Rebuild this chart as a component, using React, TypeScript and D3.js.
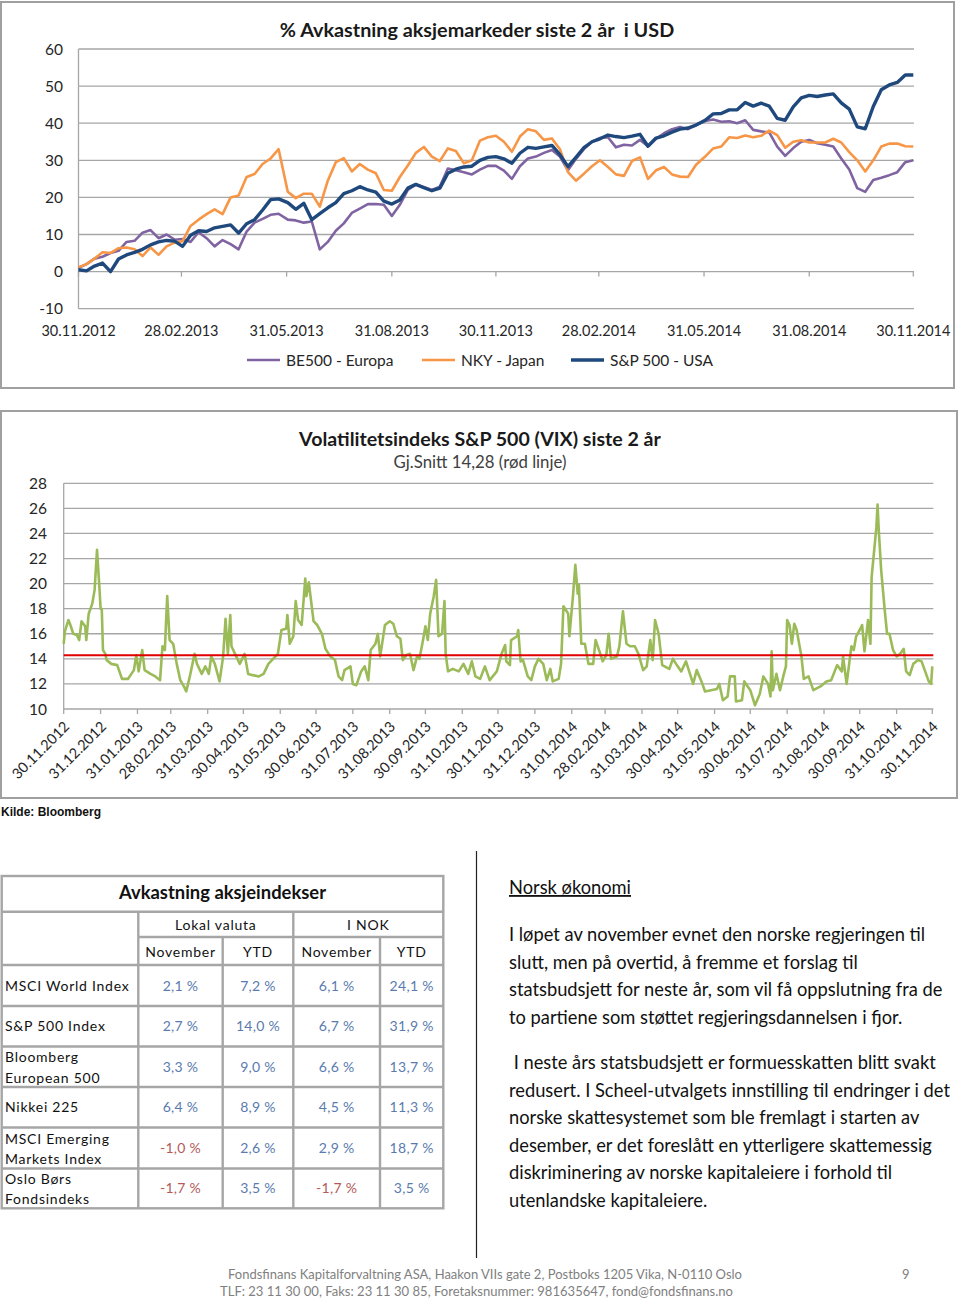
import React from 'react';
import * as d3 from 'd3';

// ---------- Chart 1: % Avkastning aksjemarkeder siste 2 år i USD ----------
const retTitle = '% Avkastning aksjemarkeder siste 2 år  i USD';
const retStart = '30.11.2012';
const retEnd = '30.11.2014';
const retTickLabels = ['30.11.2012', '28.02.2013', '31.05.2013', '31.08.2013', '30.11.2013', '28.02.2014', '31.05.2014', '31.08.2014', '30.11.2014'];
const retYTicks = [-10, 0, 10, 20, 30, 40, 50, 60];
const seriesNames = ['BE500 - Europa', 'NKY - Japan', 'S&P 500 - USA'];
const seriesColors = ['#8064A2', '#F79646', '#1F497D'];

// weekly samples, 30.11.2012 -> 30.11.2014
const be500 = [
  1.0, 2.0, 3.5, 4.0, 5.0, 5.6, 8.0, 8.3, 10.5, 11.2,
  9.0, 10.0, 8.6, 8.8, 8.0, 10.6, 9.0, 6.8, 8.5, 7.4,
  6.0, 10.8, 13.2, 14.2, 15.3, 15.6, 14.0, 13.8, 13.2, 13.5,
  6.0, 8.0, 11.0, 13.0, 15.8, 17.0, 18.2, 18.2, 18.0, 15.0,
  18.0, 22.0, 23.5, 22.8, 22.0, 22.9, 27.8, 27.3, 26.8, 26.2,
  27.5, 28.5, 28.5, 27.2, 25.0, 28.4, 30.5, 31.0, 32.0, 32.8,
  31.0, 27.3, 30.4, 33.0, 35.0, 36.0, 36.2, 33.5, 34.2, 34.0,
  35.5, 33.8, 35.8, 37.3, 38.4, 39.0, 38.4, 39.5, 40.6, 41.0,
  40.4, 40.5, 40.0, 40.8, 38.2, 37.8, 37.5, 33.7, 31.2, 33.3,
  35.0, 35.5, 34.6, 34.2, 33.7, 30.5, 27.5, 22.5, 21.5, 24.7,
  25.3, 26.0, 26.8, 29.5, 30.0,
];
const nky = [
  1.2, 2.0, 3.5, 5.2, 5.0, 6.3, 6.5, 6.0, 4.2, 6.5,
  4.5, 6.8, 7.8, 8.2, 12.3, 14.0, 15.5, 16.8, 15.5, 20.0,
  20.5, 25.5, 26.3, 29.0, 30.5, 33.0, 21.5, 19.8, 21.0, 21.0,
  17.5, 24.5, 29.5, 30.6, 27.0, 29.0, 27.5, 26.5, 22.0, 21.8,
  25.5, 28.6, 32.0, 33.6, 31.0, 29.8, 33.2, 32.5, 29.2, 30.0,
  35.3, 36.2, 36.6, 35.0, 32.3, 36.4, 38.4, 37.8, 35.5, 35.9,
  33.0, 26.8, 24.5, 26.4, 28.4, 30.0, 28.2, 26.2, 25.8, 29.8,
  30.8, 25.0, 27.3, 28.2, 26.2, 25.6, 25.5, 28.8, 31.0, 33.2,
  33.7, 36.2, 36.0, 36.7, 36.2, 36.6, 38.0, 36.8, 33.4, 35.0,
  35.4, 34.8, 34.8, 34.8, 35.8, 34.8, 32.2, 30.0, 27.0, 30.0,
  33.7, 34.5, 34.5, 33.8, 33.7,
];
const spx = [
  0.5, 0.2, 1.5, 2.3, 0.0, 3.4, 4.5, 5.2, 6.0, 7.2,
  8.0, 8.4, 8.2, 6.8, 9.8, 11.0, 10.8, 11.8, 12.2, 12.6,
  10.4, 12.9, 14.0, 16.6, 19.4, 19.6, 18.6, 16.8, 18.4, 14.0,
  15.6, 17.2, 18.6, 21.0, 21.8, 22.9, 22.0, 21.4, 19.0, 18.2,
  19.3, 22.5, 23.5, 22.6, 21.8, 22.5, 26.5, 27.6, 28.2, 28.4,
  30.0, 30.8, 31.0, 30.4, 29.2, 31.9, 33.5, 33.2, 33.6, 34.0,
  31.5, 28.3, 30.8, 33.4, 35.0, 35.8, 36.8, 36.4, 36.1, 36.5,
  37.0, 33.8, 36.0, 36.6, 37.6, 38.4, 38.7, 39.5, 40.8, 42.5,
  42.6, 43.6, 43.6, 45.6, 44.6, 45.4, 44.6, 41.3, 40.8, 44.4,
  46.8, 47.5, 47.2, 47.6, 47.9, 45.5, 43.8, 39.0, 38.5, 44.5,
  49.0, 50.3, 51.0, 53.0, 53.0,
];

// ---------- Chart 2: VIX ----------
const vixTitle = 'Volatilitetsindeks S&P 500 (VIX) siste 2 år';
const vixSubtitle = 'Gj.Snitt 14,28 (rød linje)';
const vixMean = 14.28;
const vixYTicks = [10, 12, 14, 16, 18, 20, 22, 24, 26, 28];
const vixTickLabels = [
  '30.11.2012', '31.12.2012', '31.01.2013', '28.02.2013', '31.03.2013', '30.04.2013', '31.05.2013',
  '30.06.2013', '31.07.2013', '31.08.2013', '30.09.2013', '31.10.2013', '30.11.2013', '31.12.2013',
  '31.01.2014', '28.02.2014', '31.03.2014', '30.04.2014', '31.05.2014', '30.06.2014', '31.07.2014',
  '31.08.2014', '30.09.2014', '31.10.2014', '30.11.2014',
];
// days after 30.11.2012
const vixDays = [
  0, 1, 4, 6, 8, 11, 13, 15, 18, 19,
  21, 24, 26, 28, 30, 31, 32, 33, 35, 36,
  40, 45, 49, 54, 59, 61, 63, 66, 68, 73,
  77, 81, 83, 85, 87, 89, 92, 95, 98, 101,
  103, 106, 110, 112, 116, 119, 122, 124, 127, 131,
  134, 136, 138, 140, 141, 144, 148, 152, 155, 159,
  164, 168, 172, 176, 180, 183, 187, 188, 190, 193,
  195, 197, 200, 203, 204, 206, 210, 213, 217, 220,
  224, 228, 231, 234, 236, 241, 243, 246, 250, 253,
  256, 258, 262, 264, 266, 270, 274, 277, 280, 283,
  285, 288, 291, 294, 297, 299, 302, 304, 306, 308,
  311, 313, 315, 318, 320, 321, 323, 327, 332, 336,
  340, 343, 346, 350, 354, 358, 364, 368, 371, 372,
  375, 376, 381, 382, 384, 386, 390, 393, 396, 399,
  403, 406, 409, 411, 416, 418, 420, 424, 425, 428,
  430, 432, 433, 435, 438, 441, 445, 447, 451, 453,
  456, 458, 460, 465, 467, 470, 473, 476, 480, 483,
  487, 490, 493, 495, 497, 500, 503, 509, 512, 516,
  519, 523, 529, 532, 536, 539, 544, 549, 551, 554,
  558, 560, 564, 565, 570, 572, 577, 581, 585, 588,
  592, 594, 595, 596, 599, 602, 605, 607, 608, 610,
  612, 614, 616, 620, 622, 626, 630, 636, 641, 645,
  650, 654, 655, 658, 662, 664, 666, 669, 671, 673,
  676, 678, 679, 682, 683, 684, 685, 687, 690, 692,
  694, 697, 700, 703, 706, 708, 711, 714, 718, 721,
  724, 727, 729, 730,
];
const vixValues = [
  15.2, 16.2, 17.1, 16.6, 16.0, 15.9, 15.5, 17.0, 16.6, 15.5,
  17.6, 18.4, 19.5, 22.7, 19.7, 18.0, 18.0, 14.7, 14.4, 13.9,
  13.6, 13.5, 12.4, 12.4, 13.1, 14.3, 13.0, 14.7, 13.1, 12.8,
  12.6, 12.3, 15.0, 14.7, 19.0, 15.5, 15.2, 13.6, 12.3, 11.8,
  11.4, 12.6, 14.4, 13.6, 12.8, 13.4, 12.8, 14.2, 13.6, 12.2,
  14.2, 17.2, 14.4, 17.5, 15.0, 14.4, 13.6, 14.4, 12.8, 12.7,
  12.6, 12.8, 13.6, 14.0, 14.4, 16.3, 16.4, 17.5, 15.2, 15.8,
  18.6, 17.1, 16.7, 20.4, 19.0, 20.1, 17.0, 16.7, 16.0, 14.8,
  14.2, 13.9, 12.6, 12.3, 13.1, 13.4, 12.0, 11.9, 13.0, 13.4,
  12.3, 14.7, 15.2, 16.0, 14.2, 16.7, 17.0, 16.8, 15.8, 15.6,
  13.9, 14.3, 14.4, 13.1, 14.2, 14.0, 15.5, 16.6, 15.5, 17.6,
  19.0, 20.3, 15.8, 16.0, 18.6, 14.4, 13.0, 13.2, 13.0, 13.6,
  12.8, 13.8, 12.6, 12.4, 13.4, 12.3, 13.0, 14.4, 15.1, 13.8,
  13.5, 15.5, 15.8, 16.3, 13.8, 13.9, 12.6, 12.3, 13.4, 14.0,
  13.6, 12.3, 13.2, 12.2, 12.4, 13.6, 18.2, 17.6, 15.8, 19.0,
  21.5, 19.2, 19.9, 15.2, 15.2, 13.6, 13.6, 15.5, 14.4, 13.8,
  14.3, 16.0, 14.0, 14.2, 15.0, 17.8, 15.2, 15.0, 15.0, 14.4,
  13.1, 13.4, 15.5, 13.9, 17.1, 16.0, 13.5, 13.2, 14.0, 13.4,
  13.0, 13.8, 12.0, 13.1, 12.2, 11.4, 11.5, 11.6, 12.0, 10.7,
  11.0, 12.6, 12.6, 10.6, 10.7, 12.2, 11.5, 10.3, 11.2, 12.6,
  12.0, 11.0, 14.6, 11.5, 12.8, 11.5, 12.7, 13.4, 17.1, 16.7,
  15.2, 16.8, 16.3, 14.2, 12.4, 12.6, 11.5, 11.8, 12.2, 12.3,
  13.5, 13.0, 14.2, 12.0, 15.0, 14.7, 15.8, 16.3, 16.7, 14.6,
  17.1, 15.2, 20.5, 23.5, 24.5, 26.3, 24.3, 21.1, 17.9, 16.0,
  16.0, 14.7, 14.2, 14.4, 14.8, 13.0, 12.7, 13.6, 13.9, 13.8,
  13.0, 12.2, 12.0, 13.4,
];

// ---------- Table ----------
const tableTitle = 'Avkastning aksjeindekser';
const groupHeaders = ['Lokal valuta', 'I NOK'];
const subHeaders = ['November', 'YTD', 'November', 'YTD'];
const indexNames = [
  ['MSCI World Index'],
  ['S&P 500 Index'],
  ['Bloomberg', 'European 500'],
  ['Nikkei 225'],
  ['MSCI Emerging', 'Markets Index'],
  ['Oslo Børs', 'Fondsindeks'],
];
const lokalNov = [2.1, 2.7, 3.3, 6.4, -1.0, -1.7];
const lokalYtd = [7.2, 14.0, 9.0, 8.9, 2.6, 3.5];
const nokNov = [6.1, 6.7, 6.6, 4.5, 2.9, -1.7];
const nokYtd = [24.1, 31.9, 13.7, 11.3, 18.7, 3.5];

// ---------- Text ----------
const sourceText = 'Kilde: Bloomberg';
const heading = 'Norsk økonomi';
const para1 = [
  'I løpet av november evnet den norske regjeringen til',
  'slutt, men på overtid, å fremme et forslag til',
  'statsbudsjett for neste år, som vil få oppslutning fra de',
  'to partiene som støttet regjeringsdannelsen i fjor.',
];
const para2 = [
  ' I neste års statsbudsjett er formuesskatten blitt svakt',
  'redusert. I Scheel-utvalgets innstilling til endringer i det',
  'norske skattesystemet som ble fremlagt i starten av',
  'desember, er det foreslått en ytterligere skattemessig',
  'diskriminering av norske kapitaleiere i forhold til',
  'utenlandske kapitaleiere.',
];
const footer1 = 'Fondsfinans Kapitalforvaltning ASA, Haakon VIIs gate 2, Postboks 1205 Vika, N-0110 Oslo';
const footer2 = 'TLF: 23 11 30 00, Faks: 23 11 30 85, Foretaksnummer: 981635647, fond@fondsfinans.no';
const pageNo = '9';

const parseDMY = d3.timeParse('%d.%m.%Y');
const FONT = 'Lato, "Open Sans", sans-serif';
const GRID = '#A6A6A6';
const TXT = '#262626';

function ReturnChart() {
  const start = parseDMY(retStart)!;
  const end = parseDMY(retEnd)!;
  const x = d3.scaleTime().domain([start, end]).range([78.5, 913.3]);
  const y = d3.scaleLinear().domain([-10, 60]).range([308.7, 49]);
  const total = d3.timeDay.count(start, end);
  const all = [be500, nky, spx];
  const line = d3.line<number>()
    .x((_, i, arr) => x(d3.timeDay.offset(start, Math.round((i * total) / ((arr as number[]).length - 1)))))
    .y((v) => y(v))
    .curve(d3.curveLinear);
  const widths = [2.6, 2.6, 3.4];
  const legendX = [247, 422, 571];
  return (
    <g>
      <rect x={1} y={2} width={953} height={386} fill="#fff" stroke="#A0A0A0" strokeWidth={2} />
      <text x={477} y={37} textAnchor="middle" fontFamily={FONT} fontWeight={700} fontSize={19.8} fill="#1a1a1a" style={{ whiteSpace: 'pre' }}>
        {retTitle}
      </text>
      {retYTicks.map((t) => (
        <g key={t}>
          <line x1={78.5} x2={914} y1={y(t)} y2={y(t)} stroke={GRID} strokeWidth={1.3} />
          <text x={63} y={y(t) + 5.5} textAnchor="end" fontFamily={FONT} fontSize={15.5} fill={TXT}>{t}</text>
        </g>
      ))}
      <line x1={78.5} x2={78.5} y1={y(60)} y2={y(-10)} stroke={GRID} strokeWidth={1.3} />
      {retTickLabels.map((s) => {
        const xx = x(parseDMY(s)!);
        return (
          <g key={s}>
            <line x1={xx} x2={xx} y1={y(0)} y2={y(0) + 5} stroke={GRID} strokeWidth={1.3} />
            <text x={xx} y={336} textAnchor="middle" fontFamily={FONT} fontSize={14.5} fill={TXT}>{s}</text>
          </g>
        );
      })}
      {all.map((s, k) => (
        <path key={k} d={line(s) || ''} fill="none" stroke={seriesColors[k]} strokeWidth={widths[k]} strokeLinejoin="round" />
      ))}
      {seriesNames.map((n, k) => (
        <g key={n}>
          <line x1={legendX[k]} x2={legendX[k] + 33} y1={360} y2={360} stroke={seriesColors[k]} strokeWidth={widths[k]} />
          <text x={legendX[k] + 39} y={366} fontFamily={FONT} fontSize={15.5} fill={TXT}>{n}</text>
        </g>
      ))}
    </g>
  );
}

function VixChart() {
  const start = parseDMY(vixTickLabels[0])!;
  const end = parseDMY(vixTickLabels[vixTickLabels.length - 1])!;
  const x = d3.scaleTime().domain([start, end]).range([63.7, 932.3]);
  const y = d3.scaleLinear().domain([10, 28]).range([709, 483.3]);
  const line = d3.line<number>()
    .x((_, i) => x(d3.timeDay.offset(start, vixDays[i])))
    .y((v) => y(v));
  return (
    <g>
      <rect x={1} y={411} width={956} height={387} fill="#fff" stroke="#A0A0A0" strokeWidth={2} />
      <text x={480} y={446} textAnchor="middle" fontFamily={FONT} fontWeight={700} fontSize={19.6} fill="#1a1a1a">{vixTitle}</text>
      <text x={480} y={468} textAnchor="middle" fontFamily={FONT} fontSize={16.8} fill="#404040">{vixSubtitle}</text>
      {vixYTicks.map((t) => (
        <g key={t}>
          <line x1={63.7} x2={933.3} y1={y(t)} y2={y(t)} stroke={GRID} strokeWidth={1.3} />
          <text x={47} y={y(t) + 5.5} textAnchor="end" fontFamily={FONT} fontSize={15.5} fill={TXT}>{t}</text>
        </g>
      ))}
      <line x1={63.7} x2={63.7} y1={y(28)} y2={y(10)} stroke={GRID} strokeWidth={1.3} />
      {vixTickLabels.map((s) => {
        const xx = x(parseDMY(s)!);
        return (
          <g key={s}>
            <line x1={xx} x2={xx} y1={y(10)} y2={y(10) + 5} stroke={GRID} strokeWidth={1.3} />
            <text transform={`translate(${xx + 3},${724}) rotate(-45)`} textAnchor="end" dy="0.35em" fontFamily={FONT} fontSize={14.5} fill={TXT}>{s}</text>
          </g>
        );
      })}
      <path d={line(vixValues) || ''} fill="none" stroke="#9BBB59" strokeWidth={2.6} strokeLinejoin="round" />
      <line x1={63.7} x2={933.3} y1={y(vixMean)} y2={y(vixMean)} stroke="#E00000" strokeWidth={2} />
    </g>
  );
}

function ReturnTable() {
  const cols = [1.7, 138.3, 222.7, 293.3, 380, 443.3];
  const rows = [876, 911.7, 937, 965, 1006, 1046.5, 1087, 1127.5, 1168.5, 1208.3];
  const valueCols = [lokalNov, lokalYtd, nokNov, nokYtd];
  const fmt = (v: number) => (v < 0 ? '-' : '') + Math.abs(v).toFixed(1).replace('.', ',') + ' %';
  const stroke = '#A6A6A6';
  const sw = 2.4;
  const cellFont = { fontFamily: FONT, fontSize: 14, letterSpacing: 0.75 };
  return (
    <g>
      <rect x={cols[0]} y={rows[0]} width={cols[5] - cols[0]} height={rows[9] - rows[0]} fill="#fff" stroke={stroke} strokeWidth={sw} />
      <line x1={cols[0]} x2={cols[5]} y1={rows[1]} y2={rows[1]} stroke={stroke} strokeWidth={sw} />
      <line x1={cols[1]} x2={cols[5]} y1={rows[2]} y2={rows[2]} stroke={stroke} strokeWidth={sw} />
      {rows.slice(3, 9).map((r) => (
        <line key={r} x1={cols[0]} x2={cols[5]} y1={r} y2={r} stroke={stroke} strokeWidth={sw} />
      ))}
      <line x1={cols[1]} x2={cols[1]} y1={rows[1]} y2={rows[9]} stroke={stroke} strokeWidth={sw} />
      <line x1={cols[2]} x2={cols[2]} y1={rows[2]} y2={rows[9]} stroke={stroke} strokeWidth={sw} />
      <line x1={cols[3]} x2={cols[3]} y1={rows[1]} y2={rows[9]} stroke={stroke} strokeWidth={sw} />
      <line x1={cols[4]} x2={cols[4]} y1={rows[2]} y2={rows[9]} stroke={stroke} strokeWidth={sw} />

      <text x={(cols[0] + cols[5]) / 2} y={899} textAnchor="middle" fontFamily={FONT} fontWeight={700} fontSize={18.4} fill="#111">{tableTitle}</text>
      <text x={(cols[1] + cols[3]) / 2} y={930} textAnchor="middle" {...cellFont} fill="#111">{groupHeaders[0]}</text>
      <text x={(cols[3] + cols[5]) / 2} y={930} textAnchor="middle" {...cellFont} fill="#111">{groupHeaders[1]}</text>
      {subHeaders.map((h, j) => (
        <text key={j} x={(cols[j + 1] + cols[j + 2]) / 2} y={957} textAnchor="middle" {...cellFont} fill="#111">{h}</text>
      ))}
      {indexNames.map((name, i) => {
        const cy = (rows[i + 3] + rows[i + 4]) / 2;
        return (
          <g key={i}>
            {name.length === 1 ? (
              <text x={5} y={cy + 5} {...cellFont} fill="#111">{name[0]}</text>
            ) : (
              <>
                <text x={5} y={cy - 4.5} {...cellFont} fill="#111">{name[0]}</text>
                <text x={5} y={cy + 16} {...cellFont} fill="#111">{name[1]}</text>
              </>
            )}
            {valueCols.map((vals, j) => (
              <text key={j} x={(cols[j + 1] + cols[j + 2]) / 2} y={cy + 5} textAnchor="middle"
                fontFamily={FONT} fontSize={14} letterSpacing={0.3}
                fill={vals[i] < 0 ? '#B55A5A' : '#5A7BAE'}>{fmt(vals[i])}</text>
            ))}
          </g>
        );
      })}
    </g>
  );
}

function TextColumn() {
  const tf = { fontFamily: FONT, fontSize: 18.3, fill: '#111' };
  return (
    <g>
      <line x1={476.5} x2={476.5} y1={851} y2={1258} stroke="#222" strokeWidth={1.2} />
      <text x={509} y={894} {...tf} textDecoration="underline">{heading}</text>
      {para1.map((l, i) => (
        <text key={i} x={509} y={941 + i * 27.6} {...tf} style={{ whiteSpace: 'pre' }}>{l}</text>
      ))}
      {para2.map((l, i) => (
        <text key={i} x={509} y={1069 + i * 27.6} {...tf} style={{ whiteSpace: 'pre' }}>{l}</text>
      ))}
    </g>
  );
}

export default function App() {
  return (
    <svg width={960} height={1302} viewBox="0 0 960 1302" style={{ position: 'absolute', left: 0, top: 0, background: '#fff' }}>
      <rect x={0} y={0} width={960} height={1302} fill="#fff" />
      <ReturnChart />
      <VixChart />
      <text x={1} y={816} fontFamily='"Liberation Sans", Arial, sans-serif' fontWeight={700} fontSize={12} fill="#111">{sourceText}</text>
      <ReturnTable />
      <TextColumn />
      <text x={228} y={1279} fontFamily={FONT} fontSize={13} fill="#7F7F7F" textLength={514} lengthAdjust="spacingAndGlyphs">{footer1}</text>
      <text x={220} y={1296} fontFamily={FONT} fontSize={13} fill="#7F7F7F" textLength={513} lengthAdjust="spacingAndGlyphs">{footer2}</text>
      <text x={902} y={1279} fontFamily={FONT} fontSize={13} fill="#7F7F7F">{pageNo}</text>
    </svg>
  );
}
